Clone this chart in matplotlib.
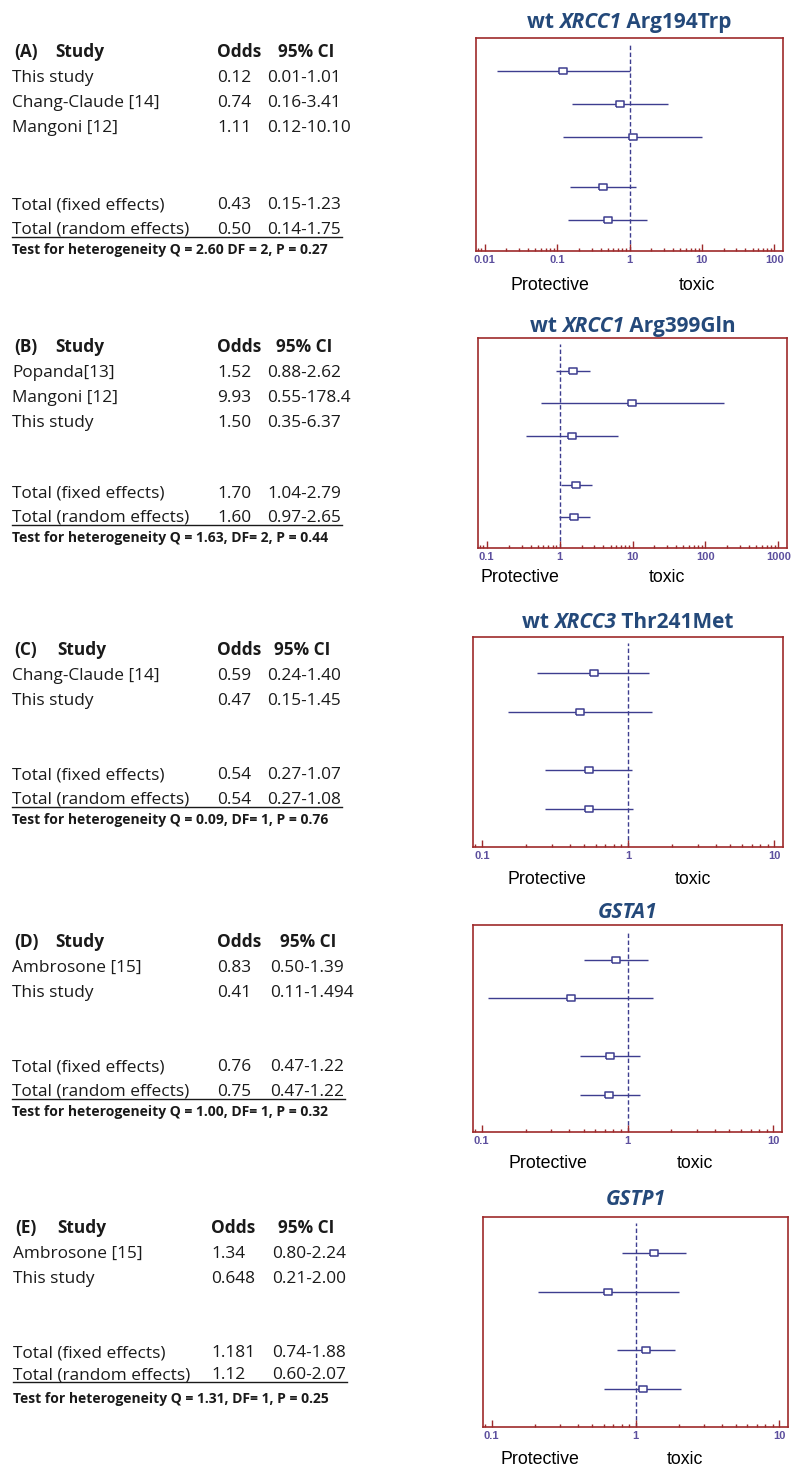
import matplotlib
matplotlib.use('Agg')
import matplotlib.pyplot as plt
import matplotlib.ticker as mticker
import numpy as np

# forest plots for 5 meta-analyses, table on the left, plot on the right

W, H = 792, 1469
total_labels = ['Total (fixed effects)', 'Total (random effects)']

# (A) wt XRCC1 Arg194Trp
title_a = [('wt ', False), ('XRCC1', True), (' Arg194Trp', False)]
studies_a = ['This study', 'Chang-Claude [14]', 'Mangoni [12]']
or_a = [0.12, 0.74, 1.11, 0.43, 0.50]
lo_a = [0.015, 0.16, 0.12, 0.15, 0.14]
hi_a = [1.01, 3.41, 10.10, 1.23, 1.75]
or_txt_a = ['0.12', '0.74', '1.11', '0.43', '0.50']
ci_txt_a = ['0.01-1.01', '0.16-3.41', '0.12-10.10', '0.15-1.23', '0.14-1.75']
het_a = 'Test for heterogeneity Q = 2.60 DF = 2, P = 0.27'

# (B) wt XRCC1 Arg399Gln
title_b = [('wt ', False), ('XRCC1', True), (' Arg399Gln', False)]
studies_b = ['Popanda[13]', 'Mangoni [12]', 'This study']
or_b = [1.52, 9.93, 1.50, 1.70, 1.60]
lo_b = [0.88, 0.55, 0.35, 1.04, 0.97]
hi_b = [2.62, 178.4, 6.37, 2.79, 2.65]
or_txt_b = ['1.52', '9.93', '1.50', '1.70', '1.60']
ci_txt_b = ['0.88-2.62', '0.55-178.4', '0.35-6.37', '1.04-2.79', '0.97-2.65']
het_b = 'Test for heterogeneity Q = 1.63, DF= 2, P = 0.44'

# (C) wt XRCC3 Thr241Met
title_c = [('wt ', False), ('XRCC3', True), (' Thr241Met', False)]
studies_c = ['Chang-Claude [14]', 'This study']
or_c = [0.59, 0.47, 0.54, 0.54]
lo_c = [0.24, 0.15, 0.27, 0.27]
hi_c = [1.40, 1.45, 1.07, 1.08]
or_txt_c = ['0.59', '0.47', '0.54', '0.54']
ci_txt_c = ['0.24-1.40', '0.15-1.45', '0.27-1.07', '0.27-1.08']
het_c = 'Test for heterogeneity Q = 0.09, DF= 1, P = 0.76'

# (D) GSTA1
title_d = [('GSTA1', True)]
studies_d = ['Ambrosone [15]', 'This study']
or_d = [0.83, 0.41, 0.76, 0.75]
lo_d = [0.50, 0.11, 0.47, 0.47]
hi_d = [1.39, 1.494, 1.22, 1.22]
or_txt_d = ['0.83', '0.41', '0.76', '0.75']
ci_txt_d = ['0.50-1.39', '0.11-1.494', '0.47-1.22', '0.47-1.22']
het_d = 'Test for heterogeneity Q = 1.00, DF= 1, P = 0.32'

# (E) GSTP1
title_e = [('GSTP1', True)]
studies_e = ['Ambrosone [15]', 'This study']
or_e = [1.34, 0.648, 1.181, 1.12]
lo_e = [0.80, 0.21, 0.74, 0.60]
hi_e = [2.24, 2.00, 1.88, 2.07]
or_txt_e = ['1.34', '0.648', '1.181', '1.12']
ci_txt_e = ['0.80-2.24', '0.21-2.00', '0.74-1.88', '0.60-2.07']
het_e = 'Test for heterogeneity Q = 1.31, DF= 1, P = 0.25'

panels = [
    ('(A)', title_a, studies_a, or_a, lo_a, hi_a, or_txt_a, ci_txt_a, het_a),
    ('(B)', title_b, studies_b, or_b, lo_b, hi_b, or_txt_b, ci_txt_b, het_b),
    ('(C)', title_c, studies_c, or_c, lo_c, hi_c, or_txt_c, ci_txt_c, het_c),
    ('(D)', title_d, studies_d, or_d, lo_d, hi_d, or_txt_d, ci_txt_d, het_d),
    ('(E)', title_e, studies_e, or_e, lo_e, hi_e, or_txt_e, ci_txt_e, het_e),
]

# layout in pixels: box (l, t, r, b), decades, title baseline,
# header baseline, fixed/random/het baselines, column x, protective/toxic x and y
layout = [
    dict(box=(476, 38, 783, 251), dec=(-2, 2), tb=28, hdr=57, tot=(209, 234, 254),
         cols=(12, 217, 267, 55, 278), pt=(550, 697, 285)),
    dict(box=(478, 338, 787, 548), dec=(-1, 3), tb=332, hdr=352, tot=(498, 522, 542),
         cols=(12, 217, 267, 55, 276), pt=(520, 667, 578)),
    dict(box=(473, 637, 783, 847), dec=(-1, 1), tb=628, hdr=655, tot=(779, 804, 824),
         cols=(12, 217, 267, 57, 274), pt=(547, 693, 880)),
    dict(box=(473, 925, 782, 1132), dec=(-1, 1), tb=918, hdr=947, tot=(1071, 1096, 1116),
         cols=(12, 217, 270, 55, 280), pt=(548, 695, 1163)),
    dict(box=(483, 1217, 788, 1427), dec=(-1, 1), tb=1205, hdr=1233, tot=(1357, 1379, 1403),
         cols=(13, 211, 272, 57, 278), pt=(540, 685, 1460)),
]

line_col = '#3d3d8f'
box_col = '#9e2a2b'
tick_col = '#5c4f9e'
title_col = '#24497a'
txt_font = 'Open Sans'

fig = plt.figure(figsize=(W / 100, H / 100), dpi=100)
fig.patch.set_facecolor('white')
renderer = fig.canvas.get_renderer()


def fx(px):
    return px / W


def fy(py):
    return 1 - py / H


rect = [(-1.5, -1), (1.5, -1), (1.5, 1), (-1.5, 1), (-1.5, -1)]

for (lab, title, studies, ors, los, his, or_txt, ci_txt, het), lay in zip(panels, layout):
    l, t, r, b = lay['box']
    ax = fig.add_axes([fx(l), fy(b), fx(r - l), (b - t) / H])
    n = len(studies)
    ypos = list(np.arange(1, n + 1)) + [n + 1.5, n + 2.5]

    ax.hlines(ypos, los, his, color=line_col, lw=1.0, zorder=2)
    ax.plot(ors, ypos, linestyle='none', marker=rect, ms=5.6, mfc='white',
            mec=line_col, mew=1.1, zorder=3)
    ax.axvline(1, ymin=0, ymax=0.97, color=line_col, lw=1.0,
               linestyle=(0, (3.2, 1.8)), zorder=1)

    d0, d1 = lay['dec']
    pad = 0.03 * (d1 - d0)
    ax.set_xscale('log')
    ax.set_xlim(10 ** (d0 - pad), 10 ** (d1 + pad))
    if n == 3:
        ax.set_ylim(6.45, 0)
    else:
        ax.set_ylim(5.47, 0.09)
    ax.set_yticks([])
    decades = np.logspace(d0, d1, d1 - d0 + 1)
    ax.set_xticks(decades)
    ax.set_xticklabels([f'{v:g}' for v in decades], fontdict=dict(
        family='Liberation Sans', weight='bold', size=8, color=tick_col))
    ax.xaxis.set_minor_locator(mticker.LogLocator(base=10, subs=np.arange(2, 10), numticks=10))
    ax.xaxis.set_minor_formatter(mticker.NullFormatter())
    ax.tick_params(axis='x', which='major', direction='in', length=5, width=1.0,
                   color=box_col, pad=3)
    ax.tick_params(axis='x', which='minor', direction='in', length=2.5, width=1.0,
                   color=box_col)
    for sp in ax.spines.values():
        sp.set_color(box_col)
        sp.set_linewidth(1.2)

    # title: mixed italic pieces, centered over the box
    pieces = []
    for s, ital in title:
        tx = fig.text(0, fy(lay['tb']), s, fontsize=15, fontweight='bold',
                      style='italic' if ital else 'normal', color=title_col,
                      family=txt_font, va='baseline', ha='left')
        pieces.append(tx)
    widths = [p.get_window_extent(renderer).width for p in pieces]
    x0 = (l + r) / 2 - sum(widths) / 2
    for p, w in zip(pieces, widths):
        p.set_x(fx(x0))
        x0 += w

    fig.text(fx(lay['pt'][0]), fy(lay['pt'][2]), 'Protective', fontsize=12.8,
             family='Liberation Sans', ha='center', va='center')
    fig.text(fx(lay['pt'][1]), fy(lay['pt'][2]), 'toxic', fontsize=12.8,
             family='Liberation Sans', ha='center', va='center')

    # table on the left
    cx_lab, cx_or, cx_ci, cx_study, cx_95 = lay['cols']
    hy = lay['hdr']
    kw = dict(fontsize=12.4, family=txt_font, va='baseline', color='#1a1a1a')
    fig.text(fx(cx_lab + 2), fy(hy), lab, fontweight='bold', **kw)
    fig.text(fx(cx_study), fy(hy), 'Study', fontweight='bold', **kw)
    fig.text(fx(cx_or), fy(hy), 'Odds', fontweight='bold', **kw)
    fig.text(fx(cx_95), fy(hy), '95% CI', fontweight='bold', **kw)

    row_y = [hy + 25 * (k + 1) for k in range(n)] + list(lay['tot'][:2])
    names = studies + total_labels
    last_ci = None
    for k, yy in enumerate(row_y):
        fig.text(fx(cx_lab), fy(yy), names[k], **kw)
        fig.text(fx(cx_or), fy(yy), or_txt[k], **kw)
        last_ci = fig.text(fx(cx_ci), fy(yy), ci_txt[k], **kw)
    x_end = last_ci.get_window_extent(renderer).x1
    uy = fy(lay['tot'][1] + 3)
    fig.add_artist(plt.Line2D([fx(cx_lab), x_end / W + 1 / W], [uy, uy],
                              transform=fig.transFigure, color='#1a1a1a', lw=1.0))
    fig.text(fx(cx_lab), fy(lay['tot'][2]), het, fontsize=10, fontweight='bold',
             family=txt_font, va='baseline', color='#1a1a1a')

fig.savefig('out.png', dpi=100, facecolor='white')
